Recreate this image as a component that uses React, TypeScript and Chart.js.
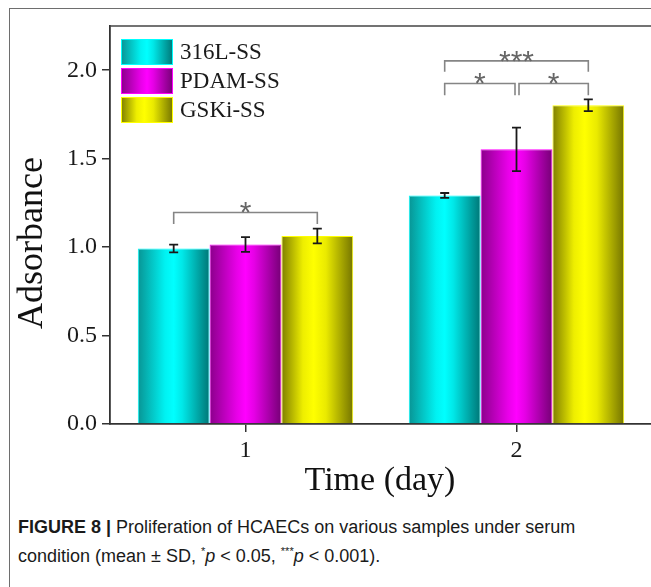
import React, { useEffect, useRef } from 'react';
import { Chart, registerables } from 'chart.js';

Chart.register(...registerables);

// ---------- data ----------
const categories = ['1', '2'];
const seriesNames = ['316L-SS', 'PDAM-SS', 'GSKi-SS'];
const values316 = [0.992, 1.292];
const valuesPDAM = [1.015, 1.553];
const valuesGSKi = [1.063, 1.802];
const err316 = [0.022, 0.014];
const errPDAM = [0.042, 0.123];
const errGSKi = [0.042, 0.033];
const yTicks = [0, 0.5, 1.0, 1.5, 2.0];
const yMin = 0;
const yMax = 2.25;

// significance brackets (category index, from series, to series, top value, leg value, label)
const bracketCat = [0, 1, 1, 1];
const bracketFrom = [0, 0, 0, 1];
const bracketTo = [2, 2, 1, 2];
const bracketTop = [1.196, 2.053, 1.925, 1.925];
const bracketLeg = [1.13, 1.991, 1.859, 1.859];
const bracketLabel = ['*', '***', '*', '*'];

const xTitle = 'Time (day)';
const yTitle = 'Adsorbance';

// ---------- styles ----------
const brightColors = ['#00ffff', '#ff00ff', '#ffff00'];
const gradStops: [number, string][][] = [
  [[0, '#089494'], [0.38, '#00f2f2'], [0.5, '#00ffff'], [0.62, '#00e8e8'], [1, '#007676']],
  [[0, '#8a008a'], [0.38, '#e800e8'], [0.5, '#ff00ff'], [0.62, '#e600e6'], [1, '#760076']],
  [[0, '#7e7e00'], [0.3, '#eeee00'], [0.45, '#ffff00'], [0.62, '#eaea00'], [1, '#747400']],
];
const serif = "'Liberation Serif', 'Times New Roman', serif";

function makeGrad(ctx: CanvasRenderingContext2D, x0: number, x1: number, i: number) {
  const g = ctx.createLinearGradient(x0, 0, x1, 0);
  gradStops[i].forEach(([o, c]) => g.addColorStop(o, c));
  return g;
}

const errors = [err316, errPDAM, errGSKi];

const cylinderPlugin = {
  id: 'cylinderFill',
  beforeDatasetsDraw(chart: any) {
    const ctx = chart.ctx;
    chart.data.datasets.forEach((_ds: any, i: number) => {
      const meta = chart.getDatasetMeta(i);
      meta.data.forEach((el: any) => {
        const { x, width } = el.getProps(['x', 'width'], true);
        el.options = { ...el.options, backgroundColor: makeGrad(ctx, x - width / 2, x + width / 2, i) };
      });
    });
  },
};

const decorPlugin = {
  id: 'decor',
  afterDatasetsDraw(chart: any) {
    const ctx: CanvasRenderingContext2D = chart.ctx;
    const yS = chart.scales.y;
    const area = chart.chartArea;
    ctx.save();

    // error bars
    chart.data.datasets.forEach((ds: any, i: number) => {
      const meta = chart.getDatasetMeta(i);
      meta.data.forEach((el: any, j: number) => {
        const v = ds.data[j];
        const e = errors[i][j];
        const yt = yS.getPixelForValue(v + e);
        const yb = yS.getPixelForValue(v - e);
        ctx.strokeStyle = '#1a1a1a';
        ctx.lineWidth = 1.8;
        ctx.beginPath();
        ctx.moveTo(el.x, yt);
        ctx.lineTo(el.x, yb);
        ctx.moveTo(el.x - 4.5, yt);
        ctx.lineTo(el.x + 4.5, yt);
        ctx.moveTo(el.x - 4.5, yb);
        ctx.lineTo(el.x + 4.5, yb);
        ctx.stroke();
      });
    });

    // significance brackets
    bracketCat.forEach((c, k) => {
      let xa = chart.getDatasetMeta(bracketFrom[k]).data[c].x;
      let xb = chart.getDatasetMeta(bracketTo[k]).data[c].x;
      if (bracketFrom[k] === 1) xa += 2.5;
      if (bracketTo[k] === 1) xb -= 1.5;
      const yt = yS.getPixelForValue(bracketTop[k]);
      const yl = yS.getPixelForValue(bracketLeg[k]);
      ctx.strokeStyle = '#858585';
      ctx.lineWidth = 1.6;
      ctx.beginPath();
      ctx.moveTo(xa, yl);
      ctx.lineTo(xa, yt);
      ctx.lineTo(xb, yt);
      ctx.lineTo(xb, yl);
      ctx.stroke();
      ctx.fillStyle = '#666';
      ctx.font = "30px 'Liberation Sans', Arial, sans-serif";
      ctx.textAlign = 'center';
      ctx.textBaseline = 'alphabetic';
      ctx.fillText(bracketLabel[k], (xa + xb) / 2, yt + 10);
    });

    // legend
    const lx = area.left + 11;
    const ly = area.top + 13;
    seriesNames.forEach((name, i) => {
      const top = ly + i * 29;
      ctx.fillStyle = makeGrad(ctx, lx, lx + 52, i);
      ctx.fillRect(lx, top, 52, 26);
      ctx.strokeStyle = brightColors[i];
      ctx.lineWidth = 1;
      ctx.strokeRect(lx + 0.5, top + 0.5, 51, 25);
      ctx.fillStyle = '#1a1a1a';
      ctx.font = `23px ${serif}`;
      ctx.textAlign = 'left';
      ctx.textBaseline = 'middle';
      ctx.fillText(name, lx + 59, top + 14);
    });

    ctx.restore();
  },
  afterDraw(chart: any) {
    const ctx: CanvasRenderingContext2D = chart.ctx;
    const area = chart.chartArea;
    ctx.save();
    // top frame of plot box
    ctx.strokeStyle = '#444';
    ctx.lineWidth = 1.5;
    ctx.beginPath();
    ctx.moveTo(area.left, area.top);
    ctx.lineTo(area.right + 2, area.top);
    ctx.stroke();

    // axis titles
    ctx.fillStyle = '#111';
    ctx.font = `34px ${serif}`;
    ctx.textAlign = 'center';
    ctx.textBaseline = 'alphabetic';
    ctx.fillText(xTitle, (area.left + area.right) / 2 - 1, 490);

    ctx.translate(42, 243);
    ctx.rotate(-Math.PI / 2);
    ctx.font = `36px ${serif}`;
    ctx.textAlign = 'center';
    ctx.textBaseline = 'alphabetic';
    ctx.fillText(yTitle, 0, 0);
    ctx.restore();
  },
};

export default function App() {
  const ref = useRef<HTMLCanvasElement | null>(null);

  useEffect(() => {
    if (!ref.current) return;
    const seriesValues = [values316, valuesPDAM, valuesGSKi];
    const chart = new Chart(ref.current, {
      type: 'bar',
      data: {
        labels: categories,
        datasets: seriesNames.map((name, i) => ({
          label: name,
          data: seriesValues[i],
          backgroundColor: brightColors[i],
          borderColor: brightColors[i],
          borderWidth: 1,
          barPercentage: 1,
          categoryPercentage: 0.795,
        })),
      },
      options: {
        animation: false,
        responsive: false,
        devicePixelRatio: 1,
        layout: { padding: { top: 26, right: 0, left: 0, bottom: 0 } },
        plugins: {
          legend: { display: false },
          tooltip: { enabled: false },
        },
        scales: {
          x: {
            type: 'category',
            offset: true,
            grid: {
              display: true,
              offset: false,
              drawOnChartArea: false,
              drawTicks: true,
              tickLength: 8,
              color: '#333',
              lineWidth: 1.5,
            },
            border: { display: true, color: '#333', width: 1.8 },
            ticks: {
              color: '#1a1a1a',
              font: { family: serif, size: 24 },
              padding: 4,
              maxRotation: 0,
            },
            afterFit: (s: any) => {
              s.height = 76;
            },
          },
          y: {
            min: yMin,
            max: yMax,
            grid: {
              display: true,
              drawOnChartArea: false,
              drawTicks: true,
              tickLength: 8,
              color: '#333',
              lineWidth: 1.5,
            },
            border: { display: true, color: '#333', width: 1.8 },
            ticks: {
              color: '#1a1a1a',
              font: { family: serif, size: 24 },
              padding: 5,
              callback: (v: any) => Number(v).toFixed(1),
            },
            afterBuildTicks: (s: any) => {
              s.ticks = yTicks.map((v) => ({ value: v }));
            },
            afterFit: (s: any) => {
              s.width = 110;
            },
          },
        },
      },
      plugins: [cylinderPlugin, decorPlugin],
    } as any);
    return () => chart.destroy();
  }, []);

  return (
    <div
      style={{
        position: 'fixed',
        left: 0,
        top: 0,
        width: 651,
        height: 587,
        overflow: 'hidden',
        background: '#fff',
      }}
    >
      <div
        style={{
          position: 'absolute',
          left: 9,
          top: 8,
          width: 800,
          height: 800,
          borderLeft: '1px solid #6e6e6e',
          borderTop: '1px solid #6e6e6e',
        }}
      />
      <canvas
        ref={ref}
        width={652}
        height={500}
        style={{ position: 'absolute', left: 0, top: 0, width: 652, height: 500 }}
      />
      <div
        style={{
          position: 'absolute',
          left: 18,
          top: 513,
          width: 620,
          fontFamily: "'Liberation Sans', Arial, sans-serif",
          fontSize: 18,
          lineHeight: '29px',
          color: '#1a1a1a',
          whiteSpace: 'nowrap',
        }}
      >
        <div>
          <b>FIGURE 8 |</b> Proliferation of HCAECs on various samples under serum
        </div>
        <div>
          condition (mean ± SD, <sup style={{ fontSize: 11, lineHeight: 0 }}>*</sup>
          <i>p</i> &lt; 0.05, <sup style={{ fontSize: 11, lineHeight: 0 }}>***</sup>
          <i>p</i> &lt; 0.001).
        </div>
      </div>
    </div>
  );
}
